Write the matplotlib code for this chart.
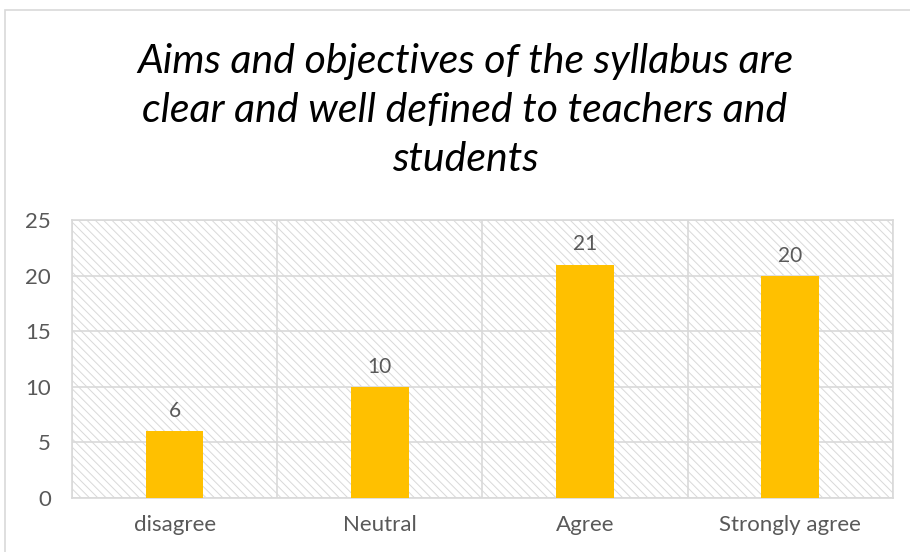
import matplotlib.pyplot as plt
from matplotlib.patches import Rectangle

categories = ["disagree", "Neutral", "Agree", "Strongly agree"]
counts = [6, 10, 21, 20]
yticks = [0, 5, 10, 15, 20, 25]
title = "Aims and objectives of the syllabus are\nclear and well defined to teachers and\nstudents"

plt.rcParams['font.family'] = ['Lato', 'DejaVu Sans']
plt.rcParams['hatch.color'] = '#d9d9d9'
plt.rcParams['hatch.linewidth'] = 0.7

grey = '#d9d9d9'
text_col = '#595959'

fig = plt.figure(figsize=(9.1, 5.52), dpi=100)
ax = fig.add_axes([0.0791, 0.0978, 0.902, 0.5036])

# outer chart border (cropped at right/bottom)
fig.patches.append(Rectangle((5 / 910, -0.1), 1.2, 1 - 10 / 552 + 0.1,
                             transform=fig.transFigure, fill=False,
                             edgecolor=grey, linewidth=1.2))

# hatched plot area
ax.add_patch(Rectangle((0, 0), 1, 1, transform=ax.transAxes, facecolor='white',
                       hatch='\\\\\\\\', edgecolor=grey, linewidth=0, zorder=0))

x = range(len(categories))
bars = ax.bar(x, counts, width=0.28, color='#ffc000', zorder=3)
for xi, v in zip(x, counts):
    ax.text(xi, v + 0.9, str(v), ha='center', va='bottom', fontsize=15, color=text_col)

ax.set_xlim(-0.5, 3.5)
ax.set_ylim(0, 25)
ax.set_yticks(yticks)
ax.set_xticks(list(x))
ax.set_xticklabels(categories)
ax.set_xticks([i + 0.5 for i in range(-1, 4)], minor=True)
ax.tick_params(axis='both', which='both', length=0, labelsize=16, labelcolor=text_col)
ax.tick_params(axis='x', pad=12)
ax.tick_params(axis='y', pad=15)
ax.grid(axis='y', color=grey, linewidth=1.2, zorder=1)
ax.grid(axis='x', which='minor', color=grey, linewidth=1.2, zorder=1)
ax.set_axisbelow(True)
for s in ax.spines.values():
    s.set_color(grey)
    s.set_linewidth(1.2)

fig.text(0.511, 0.80, title, ha='center', va='center', fontsize=29.5,
         style='italic', color='black', linespacing=1.4)

fig.savefig('out.png', dpi=100)
